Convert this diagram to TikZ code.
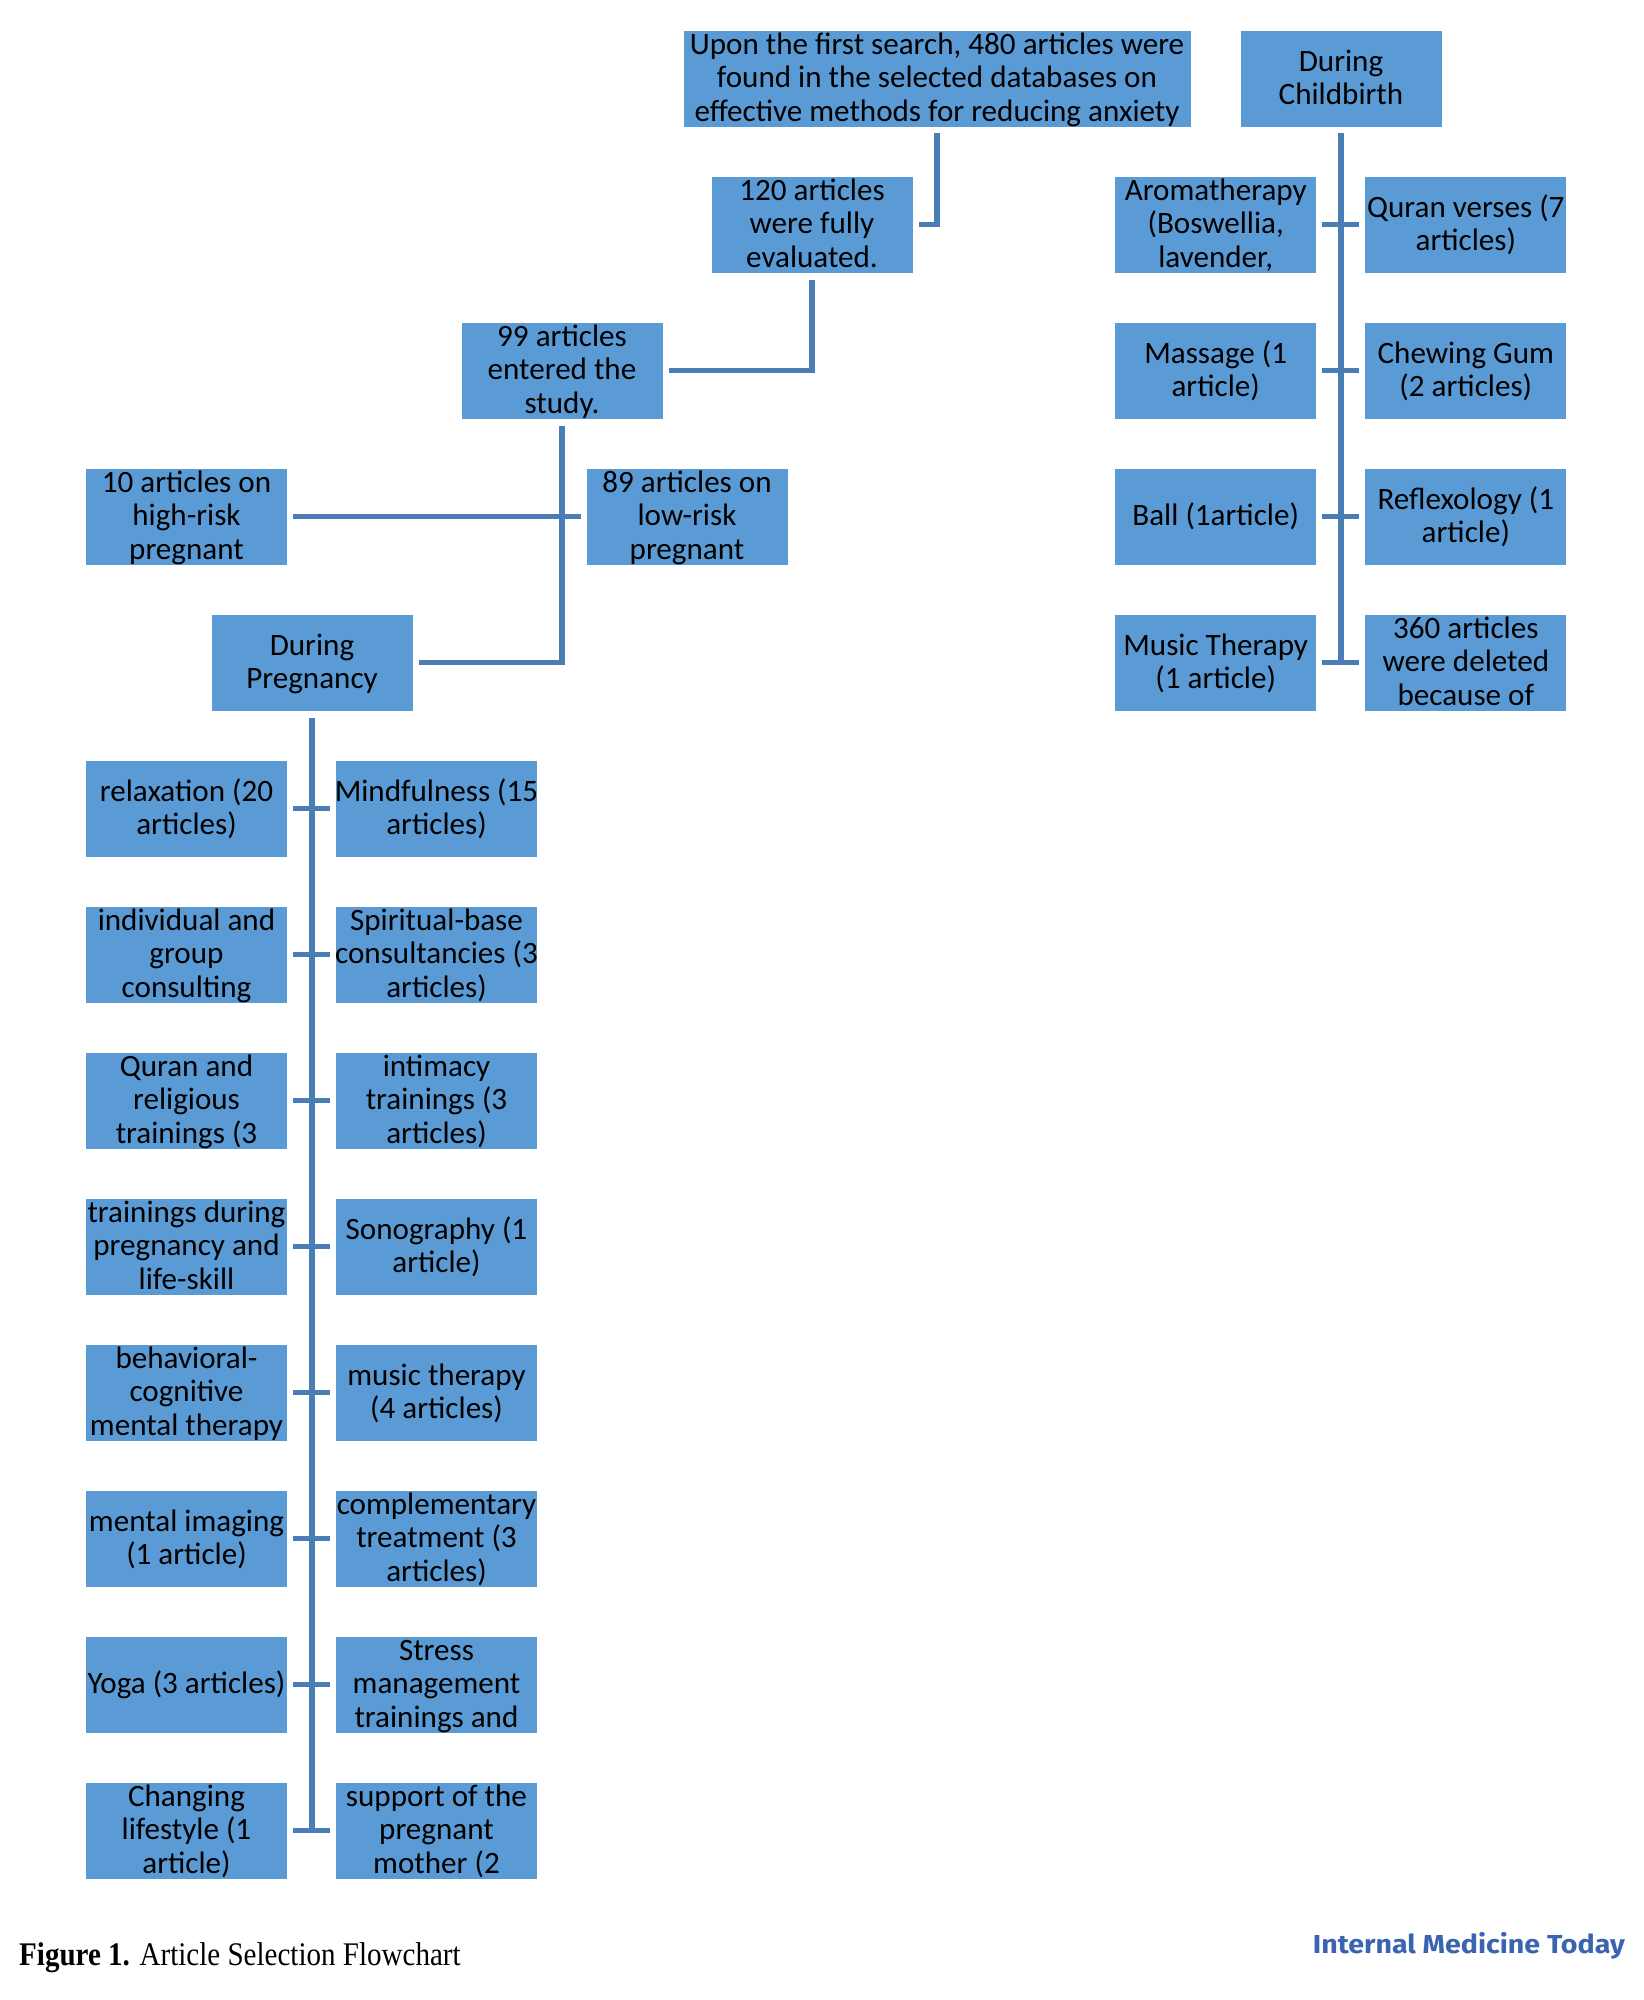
\documentclass[tikz,border=0pt]{standalone}
\usepackage{fontspec}
\usepackage{graphicx}
\setmainfont{Carlito}
\newfontfamily\capfont{Liberation Serif}
\newfontfamily\logofont{Fira Sans}
\definecolor{boxblue}{HTML}{5B9BD5}
\definecolor{linkblue}{HTML}{4A7DB6}
\definecolor{logoblue}{HTML}{3A64B0}
\newcommand\sx{\vrule width 0pt height 25.85bp depth 7.45bp\relax}
\newcommand\txfont{\fontsize{31.1bp}{33.3bp}\selectfont\lineskiplimit=-50bp\relax}
\tikzset{
  bx/.style={rectangle, fill=boxblue, draw=none, minimum width=201bp, minimum height=96bp, inner sep=0pt, outer sep=0pt},
  wide/.style={minimum width=507bp},
  tx/.style={inner sep=0pt, outer sep=0pt, align=center, text=black, font=\txfont},
  link/.style={draw=linkblue, line width=5.5bp},
}
\newcommand\bxn[5][]{\node[bx,#1] (#2) at (#3,#4) {};\node[tx] (#2t) at (#2.center) {#5};}
\begin{document}
\begin{tikzpicture}[x=1bp,y=-1bp]
\fill[white] (0,0) rectangle (1644,2000);
\useasboundingbox (0,0) rectangle (1644,2000);

% main chain
\bxn[wide]{top}{937}{78.7}{\sx Upon the first search, 480 articles were\\\sx found in the selected databases on\\\sx effective methods for reducing anxiety}
\bxn{cb}{1341}{78.7}{\sx During\\\sx Childbirth}
\bxn{n120}{812}{224.7}{\sx 120 articles\\\sx were fully\\\sx evaluated.}
\bxn{n99}{562}{370.7}{\sx 99 articles\\\sx entered the\\\sx study.}
\bxn{h10}{186.5}{516.7}{\sx 10 articles on\\\sx high-risk\\\sx pregnant}
\bxn{h89}{687}{516.7}{\sx 89 articles on\\\sx low-risk\\\sx pregnant}
\bxn{dp}{312}{662.7}{\sx During\\\sx Pregnancy}

% childbirth list
\bxn{c1l}{1215.7}{224.7}{\sx Aromatherapy\\\sx (Boswellia,\\\sx lavender,}
\bxn{c1r}{1465.8}{224.7}{\sx Quran verses (7\\\sx articles)}
\bxn{c2l}{1215.7}{370.7}{\sx Massage (1\\\sx article)}
\bxn{c2r}{1465.8}{370.7}{\sx Chewing Gum\\\sx (2 articles)}
\bxn{c3l}{1215.7}{516.7}{\sx Ball (1article)}
\bxn{c3r}{1465.8}{516.7}{\sx Reflexology (1\\\sx article)}
\bxn{c4l}{1215.7}{662.7}{\sx Music Therapy\\\sx (1 article)}
\bxn{c4r}{1465.8}{662.7}{\sx 360 articles\\\sx were deleted\\\sx because of}

% pregnancy list
\bxn{r5l}{186.5}{808.7}{\sx relaxation (20\\\sx articles)}
\bxn{r5r}{436.5}{808.7}{\sx Mindfulness (15\\\sx articles)}
\bxn{r6l}{186.5}{954.7}{\sx individual and\\\sx group\\\sx consulting}
\bxn{r6r}{436.5}{954.7}{\sx Spiritual-base\\\sx consultancies (3\\\sx articles)}
\bxn{r7l}{186.5}{1100.7}{\sx Quran and\\\sx religious\\\sx trainings (3}
\bxn{r7r}{436.5}{1100.7}{\sx intimacy\\\sx trainings (3\\\sx articles)}
\bxn{r8l}{186.5}{1246.7}{\sx trainings during\\\sx pregnancy and\\\sx life-skill}
\bxn{r8r}{436.5}{1246.7}{\sx Sonography (1\\\sx article)}
\bxn{r9l}{186.5}{1392.7}{\sx behavioral-\\\sx cognitive\\\sx mental therapy}
\bxn{r9r}{436.5}{1392.7}{\sx music therapy\\\sx (4 articles)}
\bxn{r10l}{186.5}{1538.7}{\sx mental imaging\\\sx (1 article)}
\bxn{r10r}{436.5}{1538.7}{\sx complementary\\\sx treatment (3\\\sx articles)}
\bxn{r11l}{186.5}{1684.7}{\sx Yoga (3 articles)}
\bxn{r11r}{436.5}{1684.7}{\sx Stress\\\sx management\\\sx trainings and}
\bxn{r12l}{186.5}{1830.7}{\sx Changing\\\sx lifestyle (1\\\sx article)}
\bxn{r12r}{436.5}{1830.7}{\sx support of the\\\sx pregnant\\\sx mother (2}

% connectors
\draw[link] ([yshift=-6.5bp]top.south) |- ([xshift=6bp]n120.east);
\draw[link] ([yshift=-7bp]n120.south) |- ([xshift=6bp]n99.east);
\draw[link] ([yshift=-7bp]n99.south) |- ([xshift=6bp]dp.east);
\draw[link] ([xshift=6bp]h10.east) -- ([xshift=-6bp]h89.west);
\draw[link] ([yshift=-7bp]dp.south) -- (dp.south |- r12l.east);
\foreach \r in {5,...,12}{
  \draw[link] ([xshift=6bp]r\r l.east) -- ([xshift=-6bp]r\r r.west);
}
\draw[link] ([yshift=-6.5bp]cb.south) -- (cb.south |- c4l.east);
\foreach \r in {1,...,4}{
  \draw[link] ([xshift=6bp]c\r l.east) -- ([xshift=-6bp]c\r r.west);
}

% caption and logo
\node[anchor=base west, inner sep=0pt] (cap) at (19,1965)
  {\capfont\fontsize{33bp}{36bp}\selectfont\scalebox{0.88}[1]{\textbf{Figure 1.} Article Selection Flowchart}};
\node[anchor=base east, inner sep=0pt, text=logoblue] (logo) at (1625,1953)
  {\logofont\bfseries\fontsize{26bp}{30bp}\selectfont\scalebox{1.1}[1]{Internal Medicine Today}};
\end{tikzpicture}
\end{document}
